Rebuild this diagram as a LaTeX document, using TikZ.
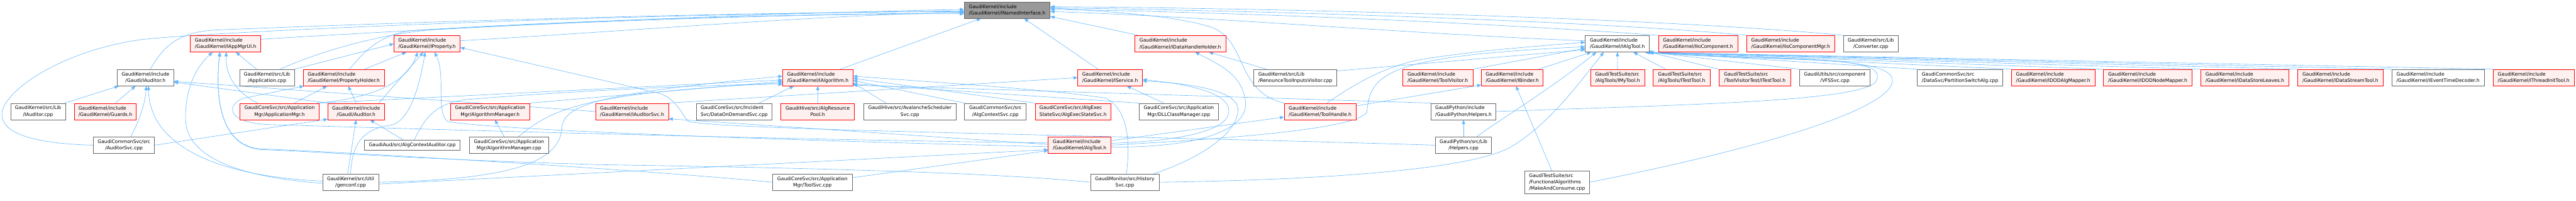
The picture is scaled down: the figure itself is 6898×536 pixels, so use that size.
\documentclass[tikz,border=0pt]{standalone}
\usepackage{fontspec}
\setmainfont{DejaVu Sans}
\usetikzlibrary{arrows.meta,calc}
\definecolor{gfour}{HTML}{666666}
\definecolor{gsix}{HTML}{999999}
\definecolor{pinkf}{HTML}{FFF0F0}
\definecolor{eblue}{HTML}{63B8FF}
\pgfdeclarelayer{bg}
\pgfsetlayers{bg,main}
\newdimen\labw
\newcommand\lab[2]{\setbox0=\hbox{#1}\setbox2=\hbox{#2}\labw=\wd0 \ifdim\wd2>\labw \labw=\wd2 \fi\vbox{\baselineskip=17pt\hbox to\labw{\box0\hfil}\hbox to\labw{\hfil\box2\hfil}}}
\newcommand\labiii[3]{\setbox0=\hbox{#1}\setbox2=\hbox{#2}\setbox4=\hbox{#3}\labw=\wd0 \ifdim\wd2>\labw \labw=\wd2 \fi\ifdim\wd4>\labw \labw=\wd4 \fi\vbox{\baselineskip=17pt\hbox to\labw{\box0\hfil}\hbox to\labw{\box2\hfil}\hbox to\labw{\hfil\box4\hfil}}}
\tikzset{
  nbox/.style={draw=gfour, fill=white, line width=1.2pt, inner sep=0pt, minimum height=44pt, font=\fontsize{12.75}{17}\selectfont},
  rbox/.style={nbox, draw=red, fill=pinkf},
  rootbox/.style={nbox, fill=gsix},
  lnk/.style={draw=eblue, line width=1pt, -{Triangle[length=11pt,width=9pt]}},
}
\begin{document}
\begin{tikzpicture}[x=1pt,y=-1pt]
\useasboundingbox (0,0) rectangle (6898,536);
% row 1
\node[rootbox, minimum width=230] (nif) at (2697,27) {\lab{GaudiKernel/include}{/GaudiKernel/INamedInterface.h}};
% row 2
\node[rbox, minimum width=188] (iappmgrui) at (604,117) {\lab{GaudiKernel/include}{/GaudiKernel/IAppMgrUI.h}};
\node[rbox, minimum width=177] (iproperty) at (1143.5,117) {\lab{GaudiKernel/include}{/GaudiKernel/IProperty.h}};
\node[rbox, minimum width=243] (idhh) at (3160.5,117) {\lab{GaudiKernel/include}{/GaudiKernel/IDataHandleHolder.h}};
\node[nbox, minimum width=172] (ialgtool) at (4331,117) {\lab{GaudiKernel/include}{/GaudiKernel/IAlgTool.h}};
\node[rbox, minimum width=212] (iiocomp) at (4547,117) {\lab{GaudiKernel/include}{/GaudiKernel/IIoComponent.h}};
\node[rbox, minimum width=236] (iiocompmgr) at (4795,117) {\lab{GaudiKernel/include}{/GaudiKernel/IIoComponentMgr.h}};
\node[nbox, minimum width=147] (converter) at (5009.5,117) {\lab{GaudiKernel/src/Lib}{/Converter.cpp}};
% row 3
\node[nbox, minimum width=151] (iauditorh) at (389.5,207.5) {\lab{GaudiKernel/include}{/Gaudi/IAuditor.h}};
\node[nbox, minimum width=146] (application) at (715,207.5) {\lab{GaudiKernel/src/Lib}{/Application.cpp}};
\node[rbox, minimum width=217] (propholder) at (920.5,207.5) {\lab{GaudiKernel/include}{/GaudiKernel/PropertyHolder.h}};
\node[rbox, minimum width=188] (ialgorithm) at (2190,207.5) {\lab{GaudiKernel/include}{/GaudiKernel/IAlgorithm.h}};
\node[rbox, minimum width=173] (iservice) at (2972.5,207.5) {\lab{GaudiKernel/include}{/GaudiKernel/IService.h}};
\node[nbox, minimum width=223] (renounce) at (3468.5,207.5) {\lab{GaudiKernel/src/Lib}{/RenounceToolInputsVisitor.cpp}};
\node[rbox, minimum width=188] (toolvisitor) at (3850,207.5) {\lab{GaudiKernel/include}{/GaudiKernel/ToolVisitor.h}};
\node[rbox, minimum width=165] (ibinder) at (4049.5,207.5) {\lab{GaudiKernel/include}{/GaudiKernel/IBinder.h}};
\node[rbox, minimum width=145] (imytool) at (4331.5,207.5) {\lab{GaudiTestSuite/src}{/AlgTools/IMyTool.h}};
\node[rbox, minimum width=152] (itesttool1) at (4503,207.5) {\lab{GaudiTestSuite/src}{/AlgTools/ITestTool.h}};
\node[rbox, minimum width=192] (itesttool2) at (4699,207.5) {\lab{GaudiTestSuite/src}{/ToolVisitorTest/ITestTool.h}};
\node[nbox, minimum width=189] (vfssvc) at (4913.5,207.5) {\lab{GaudiUtils/src/component}{/VFSSvc.cpp}};
\node[nbox, minimum width=229] (partition) at (5248.5,207.5) {\lab{GaudiCommonSvc/src}{/DataSvc/PartitionSwitchAlg.cpp}};
\node[rbox, minimum width=224] (idodalg) at (5498,207.5) {\lab{GaudiKernel/include}{/GaudiKernel/IDODAlgMapper.h}};
\node[rbox, minimum width=238] (idodnode) at (5751,207.5) {\lab{GaudiKernel/include}{/GaudiKernel/IDODNodeMapper.h}};
\node[rbox, minimum width=236] (idsleaves) at (6011,207.5) {\lab{GaudiKernel/include}{/GaudiKernel/IDataStoreLeaves.h}};
\node[rbox, minimum width=228] (idstream) at (6267,207.5) {\lab{GaudiKernel/include}{/GaudiKernel/IDataStreamTool.h}};
\node[nbox, minimum width=247] (ievent) at (6528.5,207.5) {\lab{GaudiKernel/include}{/GaudiKernel/IEventTimeDecoder.h}};
\node[rbox, minimum width=217] (ithreadinit) at (6784.5,207.5) {\lab{GaudiKernel/include}{/GaudiKernel/IThreadInitTool.h}};
% row 4
\node[nbox, minimum width=146] (iauditorcpp) at (102,298) {\lab{GaudiKernel/src/Lib}{/IAuditor.cpp}};
\node[rbox, minimum width=166] (guards) at (282,298) {\lab{GaudiKernel/include}{/GaudiKernel/Guards.h}};
\node[rbox, minimum width=213] (appmgrh) at (748.5,298) {\lab{GaudiCoreSvc/src/Application}{Mgr/ApplicationMgr.h}};
\node[rbox, minimum width=151] (auditorh) at (953.5,298) {\lab{GaudiKernel/include}{/Gaudi/Auditor.h}};
\node[rbox, minimum width=213] (algmgrh) at (1312.5,298) {\lab{GaudiCoreSvc/src/Application}{Mgr/AlgorithmManager.h}};
\node[rbox, minimum width=195] (iauditorsvc) at (1692.5,298) {\lab{GaudiKernel/include}{/GaudiKernel/IAuditorSvc.h}};
\node[nbox, minimum width=202] (dataondemand) at (1966,298) {\lab{GaudiCoreSvc/src/Incident}{Svc/DataOnDemandSvc.cpp}};
\node[rbox, minimum width=197] (algrespool) at (2189.5,298) {\lab{GaudiHive/src/AlgResource}{Pool.h}};
\node[nbox, minimum width=247] (avalanche) at (2436.5,298) {\lab{GaudiHive/src/AvalancheScheduler}{Svc.cpp}};
\node[nbox, minimum width=165] (algctxsvc) at (2665.5,298) {\lab{GaudiCommonSvc/src}{/AlgContextSvc.cpp}};
\node[rbox, minimum width=203] (algexec) at (2873.5,298) {\lab{GaudiCoreSvc/src/AlgExec}{StateSvc/AlgExecStateSvc.h}};
\node[nbox, minimum width=213] (dllclass) at (3156.5,298) {\lab{GaudiCoreSvc/src/Application}{Mgr/DLLClassManager.cpp}};
\node[rbox, minimum width=192] (toolhandle) at (3535,298) {\lab{GaudiKernel/include}{/GaudiKernel/ToolHandle.h}};
\node[nbox, minimum width=174] (helpersh) at (3919,298) {\lab{GaudiPython/include}{/GaudiPython/Helpers.h}};
% row 5
\node[nbox, minimum width=164] (auditorsvc) at (332,388) {\lab{GaudiCommonSvc/src}{/AuditorSvc.cpp}};
\node[nbox, minimum width=256, minimum height=27] (algctxaud) at (1104,388.5) {GaudiAud/src/AlgContextAuditor.cpp};
\node[nbox, minimum width=212] (algmgrcpp) at (1363,388) {\lab{GaudiCoreSvc/src/Application}{Mgr/AlgorithmManager.cpp}};
\node[rbox, minimum width=168] (algtoolh) at (2891,388) {\lab{GaudiKernel/include}{/GaudiKernel/AlgTool.h}};
\node[nbox, minimum width=150] (helperscpp) at (3919,388) {\lab{GaudiPython/src/Lib}{/Helpers.cpp}};
% row 6
\node[nbox, minimum width=150] (genconf) at (939,487) {\lab{GaudiKernel/src/Util}{/genconf.cpp}};
\node[nbox, minimum width=213] (toolsvc) at (2175.5,487) {\lab{GaudiCoreSvc/src/Application}{Mgr/ToolSvc.cpp}};
\node[nbox, minimum width=184] (historysvc) at (3012,487) {\lab{GaudiMonitor/src/History}{Svc.cpp}};
\node[nbox, minimum width=173, minimum height=60] (makeconsume) at (4169.5,487) {\labiii{GaudiTestSuite/src}{/FunctionalAlgorithms}{/MakeAndConsume.cpp}};

\begin{pgfonlayer}{bg}
\fill[white] (0,0) rectangle (6898,536);
% Gaudi/IAuditor.h
\draw[lnk] (iauditorcpp) -- (iauditorh);
\draw[lnk] (guards) -- (iauditorh);
\draw[lnk] ($(auditorsvc.north)+(18,0)$) .. controls (375,320) and (390,270) .. ($(iauditorh.south)+(2,0)$);
\draw[lnk] ($(genconf.west)+(0,-3)$) .. controls (560,470) and (400,380) .. ($(iauditorh.south)+(8,0)$);
\draw[lnk] (auditorh.north west) -- ($(iauditorh.east)+(0,12)$);
\draw[lnk] (iauditorsvc.west) -- ($(iauditorh.east)+(0,10)$);
\draw[lnk] ($(iauditorh.north)+(13,0)$) .. controls (440,120) and (480,85) .. (580,80) .. controls (1200,55) and (2000,32) .. ($(nif.west)+(0,4)$);
\draw[lnk] (auditorsvc.west) .. controls (100,384) and (5,360) .. (5,305) .. controls (5,250) and (150,140) .. (370,107) .. controls (480,90) and (1500,40) .. ($(nif.west)+(0,2)$);
% IAppMgrUI
\draw[lnk] (application) -- (iappmgrui);
\draw[lnk] ($(appmgrh.north west)+(48,0)$) .. controls (620,240) and (604,190) .. ($(iappmgrui.south)+(2,0)$);
\draw[lnk] ($(genconf.west)+(0,3)$) .. controls (700,478) and (500,440) .. (497,320) .. controls (495,230) and (530,175) .. ($(iappmgrui.south)+(-35,0)$);
\draw[lnk] (toolsvc.west) .. controls (1700,452) and (900,405) .. (700,398) .. controls (590,392) and (575,260) .. ($(iappmgrui.south)+(-15,0)$);
\draw[lnk] (historysvc.west) .. controls (2600,455) and (1900,445) .. (1600,440) .. controls (1100,425) and (850,405) .. (702,400) .. controls (590,394) and (575,260) .. ($(iappmgrui.south)+(-15,0)$);
\draw[lnk] ($(iappmgrui.east)+(0,-12)$) .. controls (900,92) and (1800,40) .. ($(nif.west)+(0,-2)$);
% IProperty
\draw[lnk] (propholder) -- (iproperty);
\draw[lnk] (application.north east) -- (iproperty.west);
\draw[lnk] ($(appmgrh.north east)+(-6,0)$) .. controls (1000,262) and (1090,220) .. ($(iproperty.south)+(-25,0)$);
\draw[lnk] ($(auditorh.north east)+(-15,0)$) -- ($(iproperty.south)+(-10,0)$);
\draw[lnk] (genconf.north) .. controls (942,400) and (960,345) .. (1045,335) .. controls (1100,325) and (1125,220) .. ($(iproperty.south)+(-5,0)$);
\draw[lnk] ($(algtoolh.west)+(0,4)$) .. controls (2200,378) and (1350,350) .. (1200,325) .. controls (1165,305) and (1195,200) .. ($(iproperty.south)+(20,0)$);
\draw[lnk] (helperscpp.west) .. controls (3000,362) and (1950,348) .. (1845,325) .. controls (1825,310) and (1815,262) .. (1760,248) -- ($(iproperty.east)+(0,10)$);
\draw[lnk] ($(iproperty.east)+(0,-8)$) .. controls (1700,82) and (2200,40) .. ($(nif.west)+(0,6)$);
% PropertyHolder
\draw[lnk] ($(appmgrh.north)+(40,0)$) -- ($(propholder.south)+(-45,0)$);
\draw[lnk] (auditorh.north) -- ($(propholder.south)+(12,0)$);
\draw[lnk] ($(algtoolh.west)+(0,-6)$) .. controls (2000,372) and (900,338) .. (720,333) .. controls (615,329) and (600,285) .. (650,263) -- ($(propholder.south west)+(2,0)$);
\draw[lnk] ($(propholder.north)+(15,0)$) .. controls (960,160) and (1000,95) .. (1100,82) .. controls (1500,55) and (2200,35) .. ($(nif.west)+(0,8)$);
\draw[lnk] ($(application.north)+(35,0)$) .. controls (850,140) and (1000,95) .. (1150,80) .. controls (1600,55) and (2200,35) .. ($(nif.west)+(0,10)$);
% Gaudi/Auditor.h
\draw[lnk] (algctxaud) -- (auditorh);
\draw[lnk] ($(genconf.north)+(-8,0)$) -- (auditorh.south);
\draw[lnk] (auditorsvc.east) -- ($(auditorh.south west)+(0,-2)$);
% IAlgorithm
\draw[lnk] (appmgrh.north east) -- ($(ialgorithm.west)+(0,6)$);
\draw[lnk] (algmgrh.north east) -- ($(ialgorithm.west)+(0,10)$);
\draw[lnk] ($(algmgrcpp.north)+(25,0)$) .. controls (1480,290) and (1560,250) .. ($(ialgorithm.west)+(0,14)$);
\draw[lnk] ($(dataondemand.north east)+(-35,0)$) -- ($(ialgorithm.south west)+(30,0)$);
\draw[lnk] (algrespool) -- (ialgorithm);
\draw[lnk] ($(algctxaud.north)+(5,0)$) .. controls (1140,310) and (1170,275) .. (1250,266) .. controls (1500,245) and (1900,225) .. ($(ialgorithm.west)+(0,18)$);
\draw[lnk] (genconf.east) .. controls (1350,480) and (1500,440) .. (1505,340) .. controls (1512,280) and (1600,250) .. ($(ialgorithm.west)+(0,-4)$);
\draw[lnk] ($(avalanche.north west)+(60,0)$) -- ($(ialgorithm.east)+(0,14)$);
\draw[lnk] (algctxsvc.north west) -- ($(ialgorithm.east)+(0,8)$);
\draw[lnk] (algexec.north west) -- ($(ialgorithm.east)+(0,2)$);
\draw[lnk] ($(historysvc.north)+(4,0)$) .. controls (3028,380) and (3020,290) .. (2960,262) .. controls (2800,238) and (2500,220) .. ($(ialgorithm.east)+(0,-4)$);
\draw[lnk] (dllclass.north west) -- ($(ialgorithm.east)+(0,17)$);
\draw[lnk] (helpersh.north west) -- ($(ialgorithm.east)+(0,20)$);
\draw[lnk] ($(ialgorithm.north east)+(-35,0)$) -- ($(nif.south west)+(45,0)$);
\draw[lnk] (algmgrcpp) -- (algmgrh);
% IService
\draw[lnk] (iauditorsvc.north east) -- (iservice.west);
\draw[lnk] ($(dllclass.north)+(-40,0)$) -- ($(iservice.south)+(45,0)$);
\draw[lnk] ($(algtoolh.east)+(0,-5)$) .. controls (3200,375) and (3300,340) .. (3290,290) .. controls (3280,240) and (3150,222) .. ($(iservice.east)+(0,5)$);
\draw[lnk] ($(historysvc.north east)+(-15,0)$) .. controls (3250,410) and (3318,340) .. (3315,290) .. controls (3310,240) and (3180,222) .. ($(iservice.east)+(0,9)$);
\draw[lnk] ($(iservice.north west)+(55,0)$) -- ($(nif.south east)+(-70,0)$);
% IDataHandleHolder
\draw[lnk] ($(algtoolh.east)+(0,5)$) .. controls (3230,395) and (3345,340) .. (3335,270) .. controls (3325,200) and (3270,175) .. ($(idhh.south)+(40,0)$);
\draw[lnk] (renounce) -- (idhh);
\draw[lnk] ($(idhh.north west)+(10,0)$) -- ($(nif.east)+(0,17)$);
% ToolHandle
\draw[lnk] ($(algtoolh.east)+(0,-12)$) -- ($(toolhandle.west)+(0,15)$);
\draw[lnk] (toolhandle.north west) .. controls (3310,245) and (3340,115) .. (3250,75) .. controls (3150,40) and (2950,30) .. ($(nif.east)+(0,-6)$);
\draw[lnk] ($(toolhandle.north)+(18,0)$) .. controls (3620,230) and (3700,180) .. (3800,160) .. controls (3950,135) and (4100,125) .. ($(ialgtool.west)+(0,-4)$);
\draw[lnk] ($(toolhandle.east)+(0,-15)$) -- ($(ibinder.south west)+(0,-3)$);
% IBinder / ToolVisitor / Renounce
\draw[lnk] (ibinder) -- (ialgtool);
\draw[lnk] ($(makeconsume.north)+(-14,0)$) -- ($(ibinder.south)+(10,0)$);
\draw[lnk] (toolvisitor.north east) -- ($(ialgtool.west)+(0,12)$);
\draw[lnk] ($(renounce.east)+(0,-18)$) -- ($(ialgtool.west)+(0,16)$);
% Helpers
\draw[lnk] (helperscpp) -- (helpersh);
\draw[lnk] (helpersh.east) .. controls (4500,280) and (5000,272) .. (5025,215) .. controls (5045,170) and (4950,160) .. (4700,153) .. controls (4560,150) and (4460,143) .. ($(ialgtool.south east)+(-2,0)$);
\draw[lnk] ($(helperscpp.north east)+(-40,0)$) .. controls (4000,330) and (4150,240) .. ($(ialgtool.south west)+(30,0)$);
% AlgTool.h and others to IAlgTool
\draw[lnk] (algtoolh.east) .. controls (3300,370) and (3630,345) .. (3660,300) .. controls (3670,200) and (3700,150) .. ($(ialgtool.west)+(0,8)$);
\draw[lnk] (historysvc.east) .. controls (3600,480) and (3960,448) .. (4050,390) .. controls (4150,330) and (4230,220) .. ($(ialgtool.south west)+(50,0)$);
\draw[lnk] ($(toolsvc.east)+(0,-12)$) -- ($(algtoolh.south west)+(0,-8)$);
\draw[lnk] ($(genconf.east)+(0,5)$) -- ($(algtoolh.west)+(0,12)$);
\draw[lnk] ($(algtoolh.west)+(0,-2)$) -- ($(iauditorsvc.south east)+(0,-3)$);
\draw[lnk] (imytool) -- (ialgtool);
\draw[lnk] (itesttool1) -- (ialgtool);
\draw[lnk] (itesttool2.north west) -- ($(ialgtool.south east)+(0,0)$);
\draw[lnk] (vfssvc.north west) -- ($(ialgtool.south east)+(-1,0)$);
\draw[lnk] (partition.north west) -- ($(ialgtool.south east)+(-3,0)$);
\draw[lnk] (idodalg.north west) -- ($(ialgtool.south east)+(-4,0)$);
\draw[lnk] (idodnode.north west) -- ($(ialgtool.south east)+(-6,0)$);
\draw[lnk] (idsleaves.north west) -- ($(ialgtool.south east)+(-8,0)$);
\draw[lnk] (idstream.north west) -- ($(ialgtool.south east)+(-10,0)$);
\draw[lnk] (ievent.north west) -- ($(ialgtool.south east)+(-12,0)$);
\draw[lnk] (ithreadinit.north west) -- ($(ialgtool.south east)+(-14,0)$);
\draw[lnk] (makeconsume.east) .. controls (4500,440) and (4990,330) .. (5060,235) .. controls (5095,185) and (5010,165) .. (4800,158) .. controls (4600,152) and (4470,146) .. ($(ialgtool.south east)+(-1,0)$);
% to INamedInterface from the right
\draw[lnk] ($(ialgtool.west)+(0,-8)$) .. controls (3800,92) and (3200,42) .. ($(nif.east)+(0,4)$);
\draw[lnk] (iiocomp.north west) .. controls (4000,62) and (3300,32) .. ($(nif.east)+(0,-2)$);
\draw[lnk] (iiocompmgr.north west) .. controls (4300,58) and (3400,28) .. ($(nif.east)+(0,-6)$);
\draw[lnk] (converter.north west) .. controls (4500,52) and (3500,22) .. ($(nif.east)+(0,-9)$);
\end{pgfonlayer}
\end{tikzpicture}
\end{document}
